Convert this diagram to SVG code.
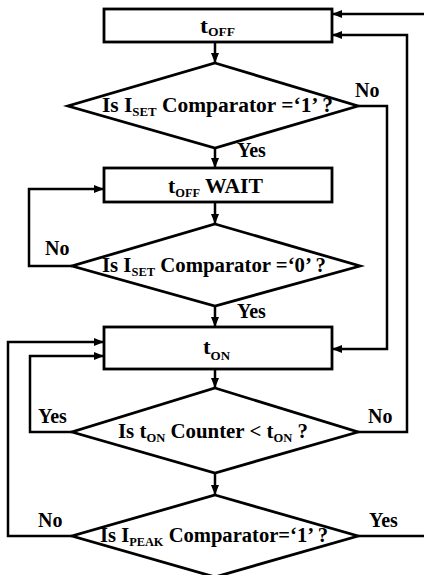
<svg xmlns="http://www.w3.org/2000/svg" width="424" height="575" viewBox="0 0 424 575">
<defs>
<marker id="ah" markerUnits="userSpaceOnUse" markerWidth="10" markerHeight="10" viewBox="0 0 10 10" refX="10" refY="5" orient="auto">
<path d="M0,1 L10,5 L0,9 Z" fill="#000"/>
</marker>
<style>
.shape{fill:#fff;stroke:#000;stroke-width:2.8}
.wire{fill:none;stroke:#000;stroke-width:2.5;marker-end:url(#ah)}
.wire2{fill:none;stroke:#000;stroke-width:2.5}
text{font-family:"Liberation Serif","Times New Roman",serif;font-weight:bold;fill:#000}
.t{font-size:21px}
.d{font-size:20px}
.s{font-size:12px}
.l{font-size:20px}
</style>
</defs>
<rect width="424" height="575" fill="#fff"/>
<g id="connectors">
<path class="wire" d="M215,42 L215,63"/>
<path class="wire" d="M215,148 L215,168"/>
<path class="wire" d="M215,202 L215,224"/>
<path class="wire" d="M215,306 L215,327"/>
<path class="wire" d="M215,369 L215,388"/>
<path class="wire" d="M215,473 L215,495"/>
<path class="wire" d="M358,106 L387,106 L387,349 L332,349"/>
<path class="wire" d="M72,266 L29,266 L29,189 L104,189"/>
<path class="wire" d="M72,432 L30,432 L30,356 L104,356"/>
<path class="wire" d="M358,432 L407,432 L407,35 L332,35"/>
<path class="wire" d="M72,536 L8,536 L8,342 L104,342"/>
<path class="wire2" d="M358,536 L424,536"/>
<path class="wire" d="M424,14 L332,14"/>
</g>
<g id="toff">
<rect class="shape" x="104" y="9" width="228" height="33"/>
<text class="t" x="200" y="33" textLength="35" lengthAdjust="spacingAndGlyphs">t<tspan class="s" dy="3">OFF</tspan></text>
</g>
<g id="dec1">
<polygon class="shape" points="215,63 358,106 215,148 68,106"/>
<text class="d" x="102" y="112" textLength="231" lengthAdjust="spacingAndGlyphs">Is I<tspan class="s" dy="4">SET</tspan><tspan dy="-4"> Comparator =‘1’ ?</tspan></text>
</g>
<g id="toffwait">
<rect class="shape" x="104" y="168" width="228" height="34"/>
<text class="t" x="168" y="193" textLength="95" lengthAdjust="spacingAndGlyphs">t<tspan class="s" dy="4">OFF</tspan><tspan dy="-4"> WAIT</tspan></text>
</g>
<g id="dec2">
<polygon class="shape" points="215,224 360,266 215,306 72,266"/>
<text class="d" x="102" y="272" textLength="224" lengthAdjust="spacingAndGlyphs">Is I<tspan class="s" dy="4">SET</tspan><tspan dy="-4"> Comparator =‘0’ ?</tspan></text>
</g>
<g id="ton">
<rect class="shape" x="104" y="327" width="228" height="42"/>
<text class="t" x="203" y="354" textLength="27" lengthAdjust="spacingAndGlyphs">t<tspan class="s" dy="6">ON</tspan></text>
</g>
<g id="dec3">
<polygon class="shape" points="215,388 358,432 215,473 72,432"/>
<text class="d" x="118" y="438" textLength="190" lengthAdjust="spacingAndGlyphs">Is t<tspan class="s" dy="4">ON</tspan><tspan dy="-4"> Counter &lt; t</tspan><tspan class="s" dy="4">ON</tspan><tspan dy="-4"> ?</tspan></text>
</g>
<g id="dec4">
<polygon class="shape" points="215,495 358,536 215,577 72,536"/>
<text class="d" x="100" y="542" textLength="228" lengthAdjust="spacingAndGlyphs">Is I<tspan class="s" dy="4">PEAK</tspan><tspan dy="-4"> Comparator=‘1’ ?</tspan></text>
</g>
<g id="labels">
<text class="l" x="355" y="97">No</text>
<text class="l" x="237" y="157">Yes</text>
<text class="l" x="45" y="255">No</text>
<text class="l" x="237" y="318">Yes</text>
<text class="l" x="38" y="423">Yes</text>
<text class="l" x="368" y="423">No</text>
<text class="l" x="38" y="527">No</text>
<text class="l" x="369" y="527">Yes</text>
</g>
</svg>
